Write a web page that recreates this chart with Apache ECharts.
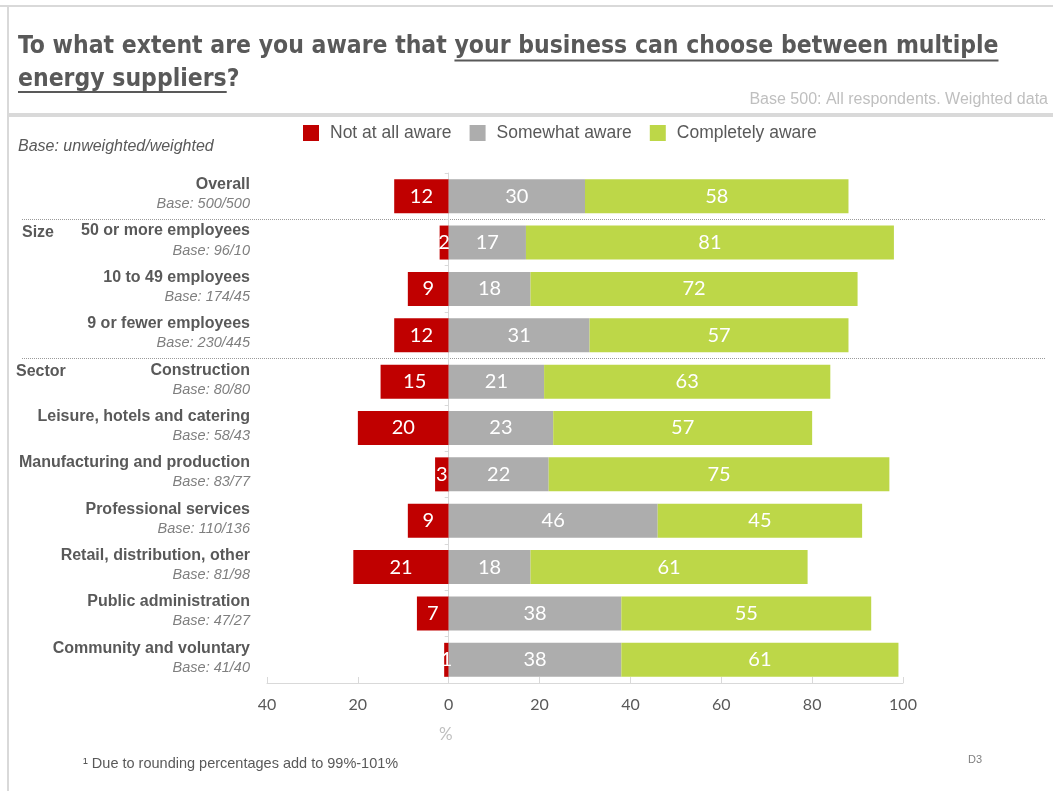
<!DOCTYPE html>
<html>
<head>
<meta charset="utf-8">
<title>Awareness of choosing energy suppliers</title>
<script src="https://cdn.jsdelivr.net/npm/echarts@6/dist/echarts.min.js"></script>
<style>
  html, body { margin: 0; padding: 0; background: #ffffff; }
  #chart { width: 1053px; height: 791px; }
</style>
</head>
<body>
<div id="chart"></div>
<script>
// ---- data ----
const categories = [
  'Overall',
  '50 or more employees',
  '10 to 49 employees',
  '9 or fewer employees',
  'Construction',
  'Leisure, hotels and catering',
  'Manufacturing and production',
  'Professional services',
  'Retail, distribution, other',
  'Public administration',
  'Community and voluntary'
];
const bases = ['500/500', '96/10', '174/45', '230/445', '80/80', '58/43', '83/77', '110/136', '81/98', '47/27', '41/40'];
const notAware        = [12, 2, 9, 12, 15, 20, 3, 9, 21, 7, 1];
const somewhatAware   = [30, 17, 18, 31, 21, 23, 22, 46, 18, 38, 38];
const completelyAware = [58, 81, 72, 57, 63, 57, 75, 45, 61, 55, 61];
const seriesNames = ['Not at all aware', 'Somewhat aware', 'Completely aware'];
const xTickRange = [-40, 100];
const xTickStep = 20;
// group headings and the rows they sit beside; dotted rules follow these rows
const groupHeadings = [['Size', 1], ['Sector', 4]];
const rulesAfterRow = [0, 3];

// ---- styles ----
const RED = '#C00000', GREY = '#ADADAD', GREEN = '#BDD748';
const INK = '#595959', SOFT = '#7F7F7F', PALE = '#BFBFBF', LINE = '#D9D9D9';
const SANS = '"Liberation Sans", Arial, sans-serif';
const NUM = 'Lato, "Open Sans", sans-serif';
const TITLE_FONT = 'bold 24.5px "DejaVu Sans Condensed", "DejaVu Sans", sans-serif';

const chart = echarts.init(document.getElementById('chart'), null, { renderer: 'canvas' });

const barLabel = {
  show: true,
  position: 'inside',
  color: '#ffffff',
  fontFamily: NUM,
  fontSize: 20,
  formatter: p => Math.abs(p.value)
};

const option = {
  animation: false,
  backgroundColor: '#ffffff',
  textStyle: { fontFamily: SANS },
  legend: {
    left: 303,
    top: 124,
    padding: 0,
    icon: 'rect',
    itemWidth: 16,
    itemHeight: 16,
    itemGap: 18,
    selectedMode: false,
    textStyle: { fontFamily: SANS, fontSize: 17.5, color: INK, padding: [0, 0, 0, 6] },
    data: seriesNames
  },
  grid: { left: 267, right: 150, top: 173, bottom: 108 },
  xAxis: {
    type: 'value',
    min: xTickRange[0],
    max: xTickRange[1],
    interval: xTickStep,
    axisLine: { show: true, onZero: false, lineStyle: { color: LINE, width: 1 } },
    axisTick: { show: true, inside: true, length: 6, lineStyle: { color: LINE } },
    axisLabel: { formatter: v => Math.abs(v), fontFamily: NUM, fontSize: 16, color: INK, margin: 14 },
    splitLine: { show: false }
  },
  yAxis: [
    {
      type: 'category',
      data: categories,
      inverse: true,
      axisLine: { show: false, onZero: false },
      axisTick: { show: false },
      axisLabel: {
        margin: 17,
        padding: [0, 0, 4, 0],
        formatter: (v, i) => `{n|${v}}\n{b|Base: ${bases[i]}}`,
        rich: {
          n: { fontFamily: SANS, fontWeight: 'bold', fontSize: 16, color: INK, lineHeight: 20, align: 'right' },
          b: { fontFamily: SANS, fontStyle: 'italic', fontSize: 14.5, color: SOFT, lineHeight: 19, align: 'right' }
        }
      }
    },
    {
      // zero line with short ticks between rows
      type: 'category',
      data: categories,
      inverse: true,
      position: 'left',
      axisLine: { show: true, onZero: true, lineStyle: { color: LINE } },
      axisTick: { show: true, length: 4, lineStyle: { color: LINE } },
      axisLabel: { show: false }
    }
  ],
  series: [
    { name: seriesNames[0], type: 'bar', stack: 'aware', barWidth: 34, itemStyle: { color: RED },
      label: barLabel, data: notAware.map(v => -v) },
    { name: seriesNames[1], type: 'bar', stack: 'aware', barWidth: 34, itemStyle: { color: GREY },
      label: barLabel, data: somewhatAware },
    { name: seriesNames[2], type: 'bar', stack: 'aware', barWidth: 34, itemStyle: { color: GREEN },
      label: barLabel, data: completelyAware }
  ]
};

chart.setOption(option);

// ---- frame, title and notes ----
const measure = document.createElement('canvas').getContext('2d');
function textWidth(font, s) { measure.font = font; return measure.measureText(s).width; }

const rowY = i => chart.convertToPixel({ yAxisIndex: 0 }, categories[i]);
const zeroX = chart.convertToPixel({ xAxisIndex: 0 }, 0);

const title1a = 'To what extent are you aware that ';
const title1b = 'your business can choose between multiple';
const title2a = 'energy suppliers';
const title2b = '?';
const tx = 18;
const u1start = tx + textWidth(TITLE_FONT, title1a);
const u1end = u1start + textWidth(TITLE_FONT, title1b);
const u2end = tx + textWidth(TITLE_FONT, title2a);

const graphics = [
  // page frame
  { type: 'line', shape: { x1: 0, y1: 6, x2: 1053, y2: 6 }, style: { stroke: LINE, lineWidth: 2 } },
  { type: 'line', shape: { x1: 8, y1: 6, x2: 8, y2: 791 }, style: { stroke: LINE, lineWidth: 2 } },
  { type: 'rect', shape: { x: 8, y: 113, width: 1045, height: 4 }, style: { fill: LINE } },
  // title
  { type: 'text', x: tx, y: 47, style: { text: title1a + title1b, font: TITLE_FONT, fill: INK, align: 'left', verticalAlign: 'middle' } },
  { type: 'text', x: tx, y: 80, style: { text: title2a + title2b, font: TITLE_FONT, fill: INK, align: 'left', verticalAlign: 'middle' } },
  { type: 'line', shape: { x1: u1start, y1: 60.5, x2: u1end, y2: 60.5 }, style: { stroke: INK, lineWidth: 2 } },
  { type: 'line', shape: { x1: tx, y1: 92, x2: u2end, y2: 92 }, style: { stroke: INK, lineWidth: 2 } },
  { type: 'text', x: 1048, y: 100, style: { text: 'Base 500: All respondents. Weighted data', font: '16px ' + SANS, fill: PALE, align: 'right', verticalAlign: 'middle' } },
  { type: 'text', x: 18, y: 147, style: { text: 'Base: unweighted/weighted', font: 'italic 16px ' + SANS, fill: INK, align: 'left', verticalAlign: 'middle' } },
  // axis unit
  { type: 'text', x: zeroX - 3, y: 735, style: { text: '%', font: '17px ' + NUM, fill: PALE, align: 'center', verticalAlign: 'middle' } },
  // footnotes
  { type: 'text', x: 83, y: 764, style: { text: '\u00B9 Due to rounding percentages add to 99%-101%', font: '14.5px ' + SANS, fill: INK, align: 'left', verticalAlign: 'middle' } },
  { type: 'text', x: 968, y: 760, style: { text: 'D3', font: '11px ' + SANS, fill: SOFT, align: 'left', verticalAlign: 'middle' } }
];

// dotted rules between groups
rulesAfterRow.forEach(r => {
  const y = Math.round((rowY(r) + rowY(r + 1)) / 2) + 0.5;
  graphics.push({ type: 'line', shape: { x1: 22, y1: y, x2: 1045, y2: y },
    style: { stroke: '#9A9A9A', lineWidth: 1, lineDash: [1, 1] } });
});

// group headings, level with the first row name of each group
const headingX = { Size: 22, Sector: 16 };
groupHeadings.forEach(([text, r]) => {
  graphics.push({ type: 'text', x: headingX[text], y: rowY(r) - 10,
    style: { text, font: 'bold 16px ' + SANS, fill: INK, align: 'left', verticalAlign: 'middle' } });
});

chart.setOption({ graphic: graphics });
</script>
</body>
</html>
